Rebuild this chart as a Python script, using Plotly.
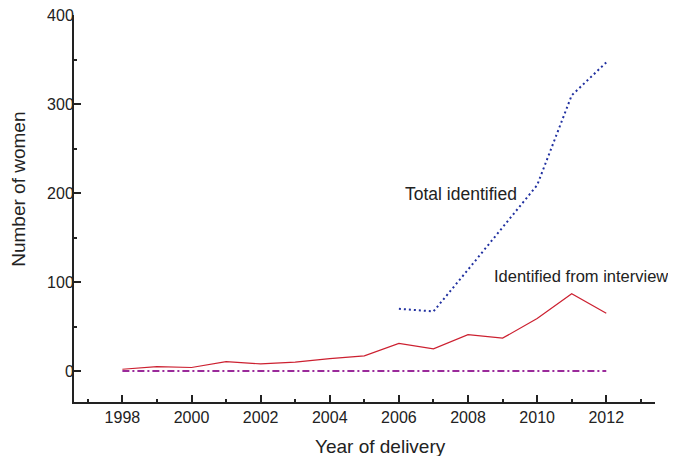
import plotly.graph_objects as go

years = list(range(1998, 2013))
interview = [2, 5, 4, 10.5, 8, 10, 14, 17, 31, 25, 41, 37, 59, 87, 65]
total_years = list(range(2006, 2013))
total = [70, 67, 114, 161, 209, 310, 347]
other = [0] * 15

FONT = "Liberation Sans, Arial, Helvetica, sans-serif"
INK = "#222222"

fig = go.Figure()
fig.add_trace(go.Scatter(x=years, y=other, mode="lines", name="Other",
                         line=dict(color="#9a2a9a", width=2, dash="7px,3px,2px,3px")))
fig.add_trace(go.Scatter(x=years, y=interview, mode="lines", name="Identified from interview",
                         line=dict(color="#cc2030", width=1.2)))
fig.add_trace(go.Scatter(x=total_years, y=total, mode="lines", name="Total identified",
                         line=dict(color="#2030a0", width=2, dash="2px,3px")))

fig.add_annotation(x=2006.12, y=198.5, text="Total identified", showarrow=False,
                   xanchor="left", yanchor="middle", font=dict(size=17.5, color=INK, family=FONT))
fig.add_annotation(x=2008.70, y=106.4, text="Identified from interview", showarrow=False,
                   xanchor="left", yanchor="middle", font=dict(size=16.5, color=INK, family=FONT))

# axis titles (placed as paper annotations to match off-centre placement)
fig.add_annotation(xref="paper", yref="paper", x=0.528, y=-0.114, text="Year of delivery",
                   showarrow=False, xanchor="center", yanchor="middle",
                   font=dict(size=19, color=INK, family=FONT))
fig.add_annotation(xref="paper", yref="paper", x=-0.0947, y=0.551, text="Number of women",
                   showarrow=False, xanchor="center", yanchor="middle", textangle=-90,
                   font=dict(size=19, color=INK, family=FONT))

axis_common = dict(showline=True, linecolor=INK, linewidth=2, showgrid=False, zeroline=False,
                   ticks="inside", ticklen=7, tickwidth=2, tickcolor=INK,
                   ticklabeloverflow="allow",
                   tickfont=dict(size=16, color=INK, family=FONT))

fig.update_xaxes(range=[1996.6, 2013.41], tick0=1998, dtick=2,
                 minor=dict(dtick=1, tick0=1997, ticks="inside", ticklen=3, tickwidth=1.5, tickcolor=INK),
                 **axis_common)
fig.update_yaxes(range=[-34.8, 400.3], tick0=0, dtick=100, ticklabelstandoff=-5,
                 minor=dict(dtick=50, ticks="inside", ticklen=3, tickwidth=1.5, tickcolor=INK),
                 **axis_common)

fig.update_layout(width=668, height=448, showlegend=False,
                  margin=dict(l=66, r=21, t=7, b=54, autoexpand=False),
                  plot_bgcolor="white", paper_bgcolor="white",
                  font=dict(family=FONT, color=INK))

fig.write_html("out.html")
